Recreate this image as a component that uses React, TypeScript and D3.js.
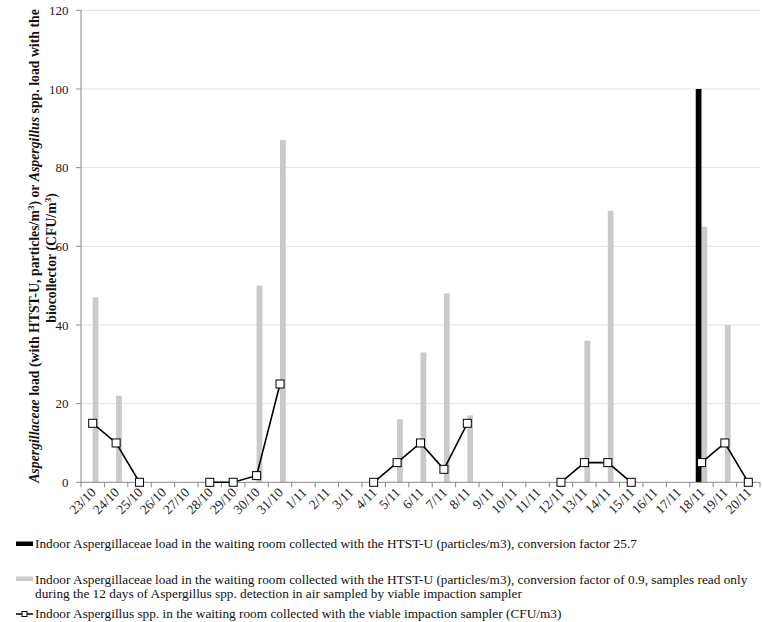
import React from "react";
import * as d3 from "d3";

const categories = [
  "23/10", "24/10", "25/10", "26/10", "27/10", "28/10", "29/10", "30/10", "31/10",
  "1/11", "2/11", "3/11", "4/11", "5/11", "6/11", "7/11", "8/11", "9/11", "10/11",
  "11/11", "12/11", "13/11", "14/11", "15/11", "16/11", "17/11", "18/11", "19/11", "20/11",
];

// Indoor Aspergillaceae load, HTST-U, conversion factor 25.7
const blackValues: (number | null)[] = [
  null, null, null, null, null, null, null, null, null,
  null, null, null, null, null, null, null, null, null, null,
  null, null, null, null, null, null, null, 100, null, null,
];

// Indoor Aspergillaceae load, HTST-U, conversion factor 0.9
const greyValues: (number | null)[] = [
  47, 22, null, null, null, null, null, 50, 87,
  null, null, null, null, 16, 33, 48, 17, null, null,
  null, null, 36, 69, null, null, null, 65, 40, null,
];

// Indoor Aspergillus spp., viable impaction sampler (CFU/m3)
const lineValues: (number | null)[] = [
  15, 10, 0, null, null, 0, 0, 1.7, 25,
  null, null, null, 0, 5, 10, 3.3, 15, null, null,
  null, 0, 5, 5, 0, null, null, 5, 10, 0,
];

const yTicks = [0, 20, 40, 60, 80, 100, 120];

const legendItems = [
  ["Indoor Aspergillaceae load in the waiting room collected with the HTST-U (particles/m3), conversion factor 25.7"],
  [
    "Indoor Aspergillaceae load in the waiting room collected with the HTST-U (particles/m3), conversion factor of 0.9, samples read only",
    "during the 12 days of Aspergillus spp. detection in air sampled by viable impaction sampler",
  ],
  ["Indoor Aspergillus spp. in the waiting room collected with the viable impaction sampler (CFU/m3)"],
];

const FONT = "'Liberation Serif', 'Times New Roman', serif";

export default function App() {
  const left = 81;
  const right = 760;
  const top = 10.3;
  const bottom = 482.3;

  const x = d3.scaleBand<string>().domain(categories).range([left, right]).padding(0);
  const y = d3.scaleLinear().domain([0, 120]).range([bottom, top]);
  const bw = x.bandwidth();
  const barW = bw * 0.245;
  const cx = (c: string) => (x(c) as number) + bw / 2;

  const line = d3
    .line<number | null>()
    .defined((d) => d !== null)
    .x((_, i) => cx(categories[i]))
    .y((d) => y(d as number));

  const axisColor = "#878787";
  const gridColor = "#e3e3e3";
  const legendFs = 13.3;
  const titleFs = 13.8;

  return (
    <svg
      width={762}
      height={622}
      style={{ position: "absolute", left: 0, top: 0, background: "#fff", fontFamily: FONT }}
    >
      {/* grid */}
      {yTicks.filter((t) => t > 0).map((t) => (
        <line key={t} x1={left} x2={right} y1={y(t)} y2={y(t)} stroke={gridColor} strokeWidth={1} />
      ))}
      {/* y axis */}
      <line x1={left} x2={left} y1={top} y2={bottom} stroke={axisColor} strokeWidth={1} />
      {yTicks.map((t) => (
        <g key={t}>
          <line x1={left - 5} x2={left} y1={y(t)} y2={y(t)} stroke={axisColor} />
          <text x={68.5} y={y(t)} dy="0.35em" textAnchor="end" fontSize={13} fill="#222">
            {t}
          </text>
        </g>
      ))}
      {/* bars */}
      {categories.map((c, i) =>
        greyValues[i] !== null ? (
          <rect
            key={"g" + c}
            x={cx(c)}
            width={barW}
            y={y(greyValues[i] as number)}
            height={bottom - y(greyValues[i] as number)}
            fill="#cacaca"
          />
        ) : null
      )}
      {categories.map((c, i) =>
        blackValues[i] !== null ? (
          <rect
            key={"b" + c}
            x={cx(c) - barW}
            width={barW}
            y={y(blackValues[i] as number)}
            height={bottom - y(blackValues[i] as number)}
            fill="#000"
          />
        ) : null
      )}
      {/* x axis */}
      <line x1={left} x2={right} y1={bottom} y2={bottom} stroke={axisColor} />
      {d3.range(categories.length + 1).map((i) => {
        const xx = left + i * bw;
        return <line key={i} x1={xx} x2={xx} y1={bottom} y2={bottom + 5} stroke={axisColor} />;
      })}
      {categories.map((c) => (
        <text
          key={c}
          transform={`translate(${cx(c) + 4},${bottom + 11}) rotate(-45)`}
          textAnchor="end"
          fontSize={13.5}
          fill="#222"
        >
          {c}
        </text>
      ))}
      {/* line series */}
      <path d={line(lineValues) || ""} fill="none" stroke="#000" strokeWidth={1.6} />
      {categories.map((c, i) =>
        lineValues[i] !== null ? (
          <rect
            key={"m" + c}
            x={cx(c) - 4}
            y={y(lineValues[i] as number) - 4}
            width={8}
            height={8}
            fill="#fff"
            stroke="#000"
            strokeWidth={1}
          />
        ) : null
      )}
      {/* y axis title */}
      <g transform="translate(39,246) rotate(-90)">
        <text textAnchor="middle" fontSize={titleFs} fontWeight="bold" fill="#111">
          <tspan fontStyle="italic">Aspergillaceae</tspan>
          <tspan> load (with HTST-U, particles/m</tspan>
          <tspan fontSize={9} baselineShift="super">3</tspan>
          <tspan>) or </tspan>
          <tspan fontStyle="italic">Aspergillus</tspan>
          <tspan> spp. load with the</tspan>
        </text>
      </g>
      <g transform="translate(55.5,258) rotate(-90)">
        <text textAnchor="middle" fontSize={titleFs} fontWeight="bold" fill="#111">
          <tspan>biocollector (CFU/m</tspan>
          <tspan fontSize={9} baselineShift="super">3</tspan>
          <tspan>)</tspan>
        </text>
      </g>
      {/* legend */}
      <rect x={16} y={541.5} width={17} height={4.5} fill="#000" />
      <text x={35} y={547.5} fontSize={legendFs} fill="#111">{legendItems[0][0]}</text>
      <rect x={16} y={576.5} width={17} height={4.5} fill="#cacaca" />
      <text x={35} y={583.5} fontSize={legendFs} fill="#111">{legendItems[1][0]}</text>
      <text x={35} y={598} fontSize={legendFs} fill="#111">{legendItems[1][1]}</text>
      <line x1={16} x2={33} y1={614} y2={614} stroke="#000" strokeWidth={1.5} />
      <rect x={22} y={611.5} width={5} height={5} fill="#fff" stroke="#000" strokeWidth={1} />
      <text x={35} y={617.5} fontSize={legendFs} fill="#111">{legendItems[2][0]}</text>
    </svg>
  );
}
